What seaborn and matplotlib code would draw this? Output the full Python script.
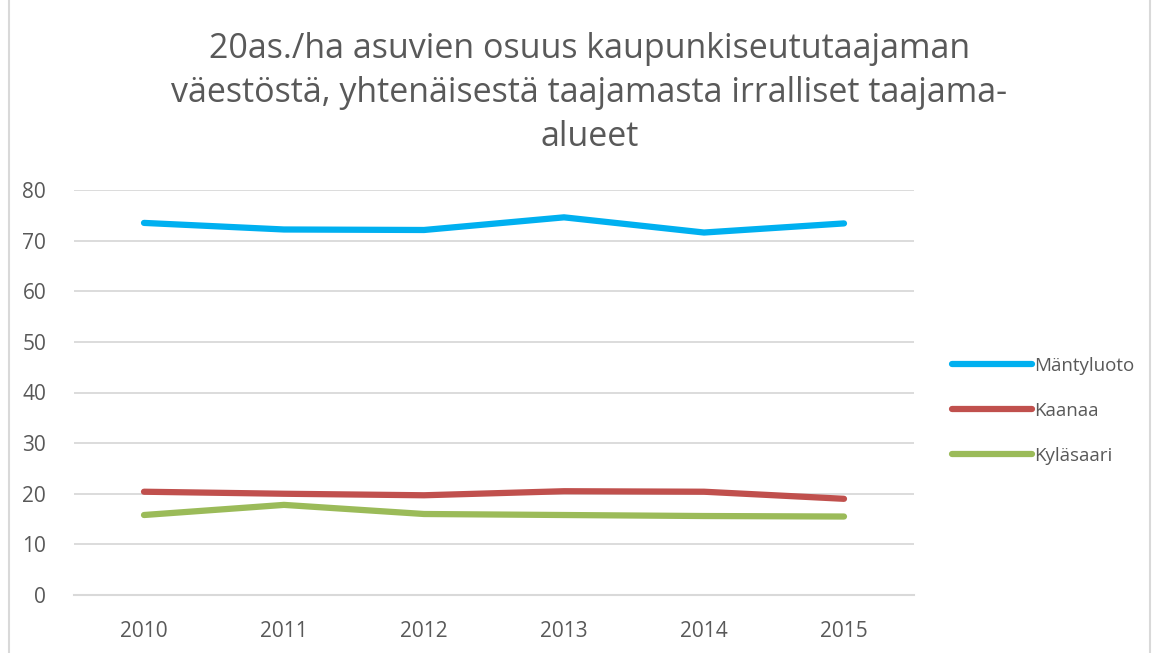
import pandas as pd
import matplotlib.pyplot as plt
import seaborn as sns
from matplotlib.patches import Rectangle

# data
years = ['2010', '2011', '2012', '2013', '2014', '2015']
mantyluoto = [73.5, 72.2, 72.1, 74.6, 71.6, 73.4]
kaanaa = [20.4, 20.0, 19.7, 20.5, 20.4, 19.0]
kylasaari = [15.8, 17.8, 16.0, 15.8, 15.6, 15.5]
series_names = ['Mäntyluoto', 'Kaanaa', 'Kyläsaari']
colors = ['#00b0f0', '#c0504d', '#9bbb59']

df = pd.DataFrame({'Vuosi': years * 3,
                   'Arvo': mantyluoto + kaanaa + kylasaari,
                   'Alue': sum([[n] * len(years) for n in series_names], [])})

sns.set_style('white')
plt.rcParams['font.family'] = ['Open Sans', 'DejaVu Sans']
text_color = '#595959'

fig = plt.figure(figsize=(11.56, 6.53), dpi=100)
ax = fig.add_axes([74 / 1156, 58 / 653, 840 / 1156, 405 / 653])

sns.lineplot(data=df, x='Vuosi', y='Arvo', hue='Alue', palette=colors,
             linewidth=4.5, ax=ax, sort=False, legend=True)
for line in ax.get_lines():
    line.set_solid_capstyle('round')
    line.set_solid_joinstyle('round')

ax.set_xlim(-0.5, 5.5)
ax.set_ylim(0, 80)
ax.set_yticks(range(0, 81, 10))
ax.yaxis.grid(True, color='#d9d9d9', linewidth=1.3)
ax.set_axisbelow(True)
for s in ['top', 'right', 'left']:
    ax.spines[s].set_visible(False)
ax.spines['bottom'].set_color('#d9d9d9')
ax.spines['bottom'].set_linewidth(1.5)
ax.tick_params(axis='both', length=0, labelsize=15, colors=text_color)
ax.tick_params(axis='y', pad=20)
ax.tick_params(axis='x', pad=19)
ax.set_xlabel('')
ax.set_ylabel('')

leg = ax.legend(loc='center left', bbox_to_anchor=(1.025, 0.455), frameon=False,
                fontsize=13.5, handlelength=4.25, handletextpad=0.15,
                labelspacing=1.45, labelcolor=text_color)
for h in leg.get_lines():
    h.set_linewidth(4.5)
    h.set_solid_capstyle('round')

fig.text(0.51, 0.858, '20as./ha asuvien osuus kaupunkiseututaajaman\n'
         'väestöstä, yhtenäisestä taajamasta irralliset taajama-\nalueet',
         ha='center', va='center', fontsize=24.5, color=text_color,
         linespacing=1.38)

# light frame of the chart area
fig.patches.append(Rectangle((9 / 1156, -0.05), 1141 / 1156, 1.2,
                             transform=fig.transFigure, fill=False,
                             edgecolor='#d9d9d9', linewidth=1.5))

fig.savefig('out.png', dpi=100)
